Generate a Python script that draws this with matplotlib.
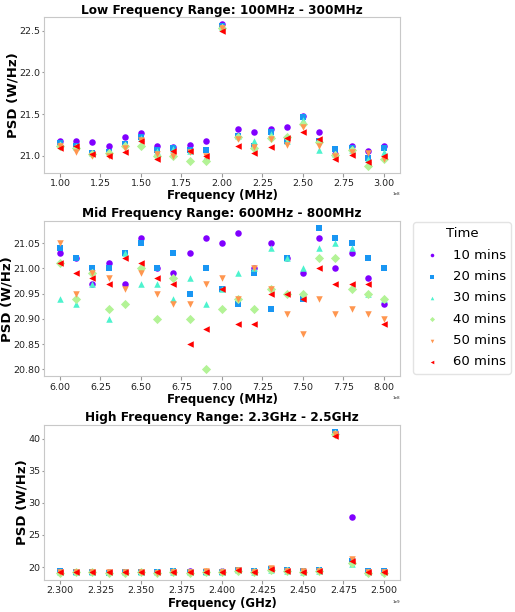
import numpy as np
import matplotlib.pyplot as plt
from matplotlib.ticker import ScalarFormatter, MultipleLocator

times = ['10 mins', '20 mins', '30 mins', '40 mins', '50 mins', '60 mins']
markers = ['o', 's', '^', 'D', 'v', '<']

# frequencies in Hz
low_freq = np.arange(21) * 1e7 + 1e8
mid_freq = np.arange(21) * 1e7 + 6e8
high_freq = np.arange(21) * 1e7 + 2.3e9

# PSD per time step, low band (100MHz - 300MHz)
low_psd = [
    [21.18, 21.17, 21.16, 21.11, 21.22, 21.27, 21.11, 21.10, 21.13, 21.17, 22.58,
     21.32, 21.28, 21.32, 21.34, 21.48, 21.28, 21.02, 21.11, 21.05, 21.11],
    [21.15, 21.12, 21.03, 21.04, 21.14, 21.22, 21.07, 21.09, 21.07, 21.07, 22.56,
     21.23, 21.12, 21.28, 21.17, 21.46, 21.18, 21.08, 21.09, 20.97, 21.09],
    [21.14, 21.10, 21.03, 21.04, 21.14, 21.21, 21.06, 21.08, 21.06, 20.98, 22.55,
     21.23, 21.17, 21.26, 21.18, 21.43, 21.07, 21.02, 21.07, 20.96, 21.04],
    [21.12, 21.09, 21.02, 21.03, 21.11, 21.11, 21.00, 21.00, 20.93, 20.93, 22.54,
     21.22, 21.09, 21.21, 21.22, 21.38, 21.16, 21.01, 21.07, 20.88, 20.96],
    [21.11, 21.04, 20.99, 21.00, 21.09, 21.19, 21.02, 20.99, 21.04, 20.99, 22.53,
     21.20, 21.10, 21.20, 21.13, 21.34, 21.11, 21.00, 21.04, 21.03, 20.96],
    [21.09, 21.11, 21.02, 20.99, 21.04, 21.17, 20.96, 21.05, 21.05, 20.99, 22.50,
     21.12, 21.03, 21.10, 21.21, 21.29, 21.20, 20.96, 21.01, 20.92, 20.99],
]

# mid band (600MHz - 800MHz)
mid_psd = [
    [21.03, 21.02, 20.97, 21.01, 20.97, 21.06, 21.00, 20.99, 21.03, 21.06, 21.05,
     21.07, 21.00, 21.05, 21.02, 20.99, 21.06, 21.00, 21.03, 20.98, 20.93],
    [21.04, 21.02, 21.00, 21.00, 21.03, 21.05, 21.00, 21.03, 20.95, 21.00, 20.96,
     20.93, 20.99, 20.92, 21.02, 20.94, 21.08, 21.06, 21.05, 21.02, 21.00],
    [20.94, 20.93, 20.97, 20.90, 21.03, 20.97, 20.97, 20.94, 20.98, 20.93, 20.96,
     20.99, 21.00, 21.04, 21.02, 21.00, 21.04, 21.05, 21.04, 20.95, 20.94],
    [21.01, 20.94, 20.99, 20.92, 20.93, 21.00, 20.90, 20.98, 20.90, 20.80, 20.92,
     20.94, 20.92, 20.96, 20.95, 20.95, 21.02, 21.02, 20.96, 20.95, 20.94],
    [21.05, 20.95, 20.99, 20.98, 20.96, 20.99, 20.95, 20.93, 20.93, 20.97, 20.98,
     20.94, 21.00, 20.96, 20.91, 20.87, 20.94, 20.91, 20.92, 20.91, 20.90],
    [21.01, 20.99, 20.98, 20.97, 21.02, 21.01, 20.98, 20.97, 20.85, 20.88, 20.96,
     20.89, 20.89, 20.95, 20.95, 20.94, 21.00, 20.97, 20.97, 20.97, 20.89],
]

# high band (2.3GHz - 2.5GHz)
high_psd = [
    [19.25, 19.30, 19.30, 19.20, 19.30, 19.30, 19.20, 19.30, 19.35, 19.30, 19.35,
     19.55, 19.35, 19.70, 19.50, 19.40, 19.50, 41.0, 27.8, 19.30, 19.30],
    [19.35, 19.30, 19.30, 19.10, 19.30, 19.25, 19.15, 19.40, 19.20, 19.25, 19.30,
     19.55, 19.35, 19.65, 19.55, 19.40, 19.50, 41.1, 21.0, 19.45, 19.45],
    [19.30, 19.20, 19.25, 19.15, 19.25, 19.20, 19.25, 19.30, 19.15, 19.20, 19.25,
     19.50, 19.20, 19.60, 19.45, 19.30, 19.40, 40.9, 20.4, 19.20, 19.25],
    [19.10, 19.15, 19.20, 19.05, 19.10, 19.20, 19.10, 19.20, 19.10, 19.15, 19.25,
     19.45, 19.20, 19.55, 19.35, 19.20, 19.35, 40.8, 20.7, 19.05, 19.10],
    [19.20, 19.25, 19.25, 19.30, 19.20, 19.30, 19.10, 19.30, 19.25, 19.35, 19.30,
     19.60, 19.30, 19.85, 19.40, 19.35, 19.45, 40.7, 21.2, 19.15, 19.15],
    [19.25, 19.25, 19.25, 19.15, 19.25, 19.25, 19.15, 19.25, 19.20, 19.25, 19.30,
     19.50, 19.25, 19.70, 19.35, 19.30, 19.40, 40.5, 21.0, 19.20, 19.25],
]

panels = [
    (low_freq, low_psd, 'Low Frequency Range: 100MHz - 300MHz', 'Frequency (MHz)', 0.5),
    (mid_freq, mid_psd, 'Mid Frequency Range: 600MHz - 800MHz', 'Frequency (MHz)', 0.05),
    (high_freq, high_psd, 'High Frequency Range: 2.3GHz - 2.5GHz', 'Frequency (GHz)', 5),
]

colors = plt.cm.rainbow(np.linspace(0, 1, len(times)))

fig, axes = plt.subplots(3, 1, figsize=(5.15, 6.12), dpi=100)
for ax, (freq, psd, title, xlabel, ystep) in zip(axes, panels):
    for i, t in enumerate(times):
        ax.scatter(freq, psd[i], color=colors[i], marker=markers[i],
                   s=22, label=t, linewidths=0)
    ax.set_title(title, fontsize=8.75, fontweight='bold', pad=2.5)
    ax.set_xlabel(xlabel, fontsize=8.4, fontweight='bold', labelpad=1)
    ax.set_ylabel('PSD (W/Hz)', fontsize=9.5, fontweight='bold', labelpad=0)
    ax.yaxis.set_major_locator(MultipleLocator(ystep))
    fmt = ScalarFormatter(useOffset=False)
    ax.xaxis.set_major_formatter(fmt)
    ax.xaxis.get_offset_text().set_fontsize(3)
    ax.tick_params(labelsize=6.8, color='#999999', labelcolor='#222222')
    ax.tick_params(axis='x', length=3, pad=1.5)
    ax.tick_params(axis='y', length=1.5, pad=1)
    for sp in ax.spines.values():
        sp.set_color('#c8c8c8')

axes[1].legend(title='Time', loc='upper left', bbox_to_anchor=(0.802, 0.637),
               bbox_transform=fig.transFigure, borderaxespad=0,
               fontsize=9.5, title_fontsize=9.5, markerscale=0.55,
               handletextpad=0.6, labelspacing=0.63, edgecolor='#dddddd')

plt.subplots_adjust(left=0.085, right=0.777, top=0.972, bottom=0.052,
                    hspace=0.31)
plt.savefig('out.png', dpi=100)
